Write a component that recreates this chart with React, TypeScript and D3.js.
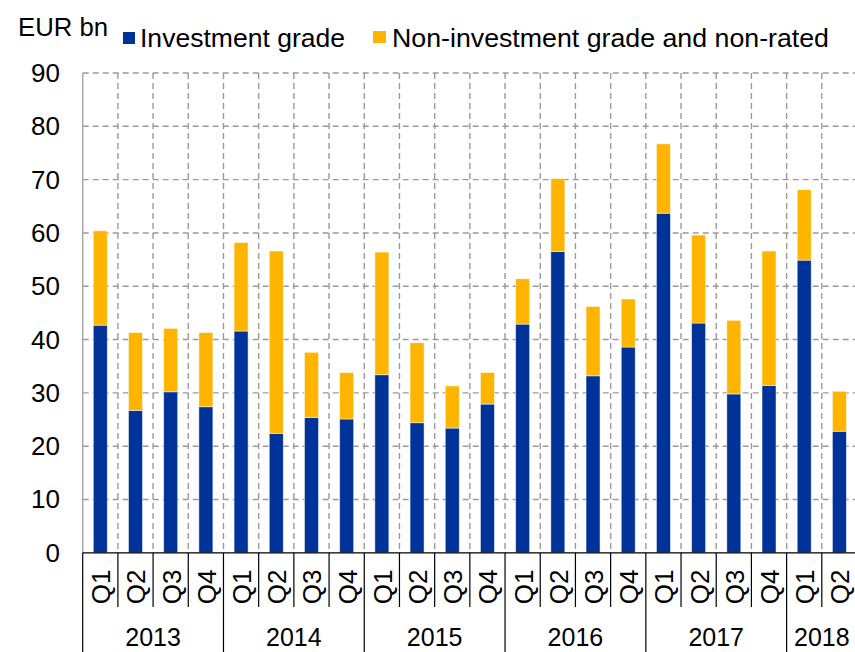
import React from "react";
import * as d3 from "d3";

const width = 855;
const height = 652;
const margin = { top: 73, right: -2, bottom: 100, left: 82.7 };

const quarters = ["Q1", "Q2", "Q3", "Q4", "Q1", "Q2", "Q3", "Q4", "Q1", "Q2", "Q3", "Q4",
  "Q1", "Q2", "Q3", "Q4", "Q1", "Q2", "Q3", "Q4", "Q1", "Q2"];
const years = ["2013", "2014", "2015", "2016", "2017", "2018"];
const quartersPerYear = [4, 4, 4, 4, 4, 2];
const investmentGrade = [42.7, 26.7, 30.2, 27.4, 41.6, 22.4, 25.4, 25.1, 33.4, 24.4, 23.4, 27.9,
  42.9, 56.5, 33.2, 38.6, 63.7, 43.1, 29.8, 31.4, 54.9, 22.8];
const nonInvestment = [17.7, 14.6, 11.9, 13.9, 16.6, 34.2, 12.2, 8.7, 23.0, 15.0, 7.9, 5.9,
  8.5, 13.7, 13.0, 9.0, 13.0, 16.5, 13.8, 25.2, 13.2, 7.5];
const yTicks = [0, 10, 20, 30, 40, 50, 60, 70, 80, 90];

const seriesNames = ["Investment grade", "Non-investment grade and non-rated"];
const colors = ["#003399", "#FFB400"];
const font = "'Liberation Sans', Arial, sans-serif";

export default function App() {
  const keys = quarters.map((q, i) => `${i}`);
  const rows = keys.map((k, i) => ({ key: k, ig: investmentGrade[i], nig: nonInvestment[i] }));

  const x = d3.scaleBand().domain(keys).range([margin.left, width - margin.right]).padding(0);
  const y = d3.scaleLinear().domain([0, 90]).range([height - margin.bottom + 0.8, margin.top]);
  const stacked = d3.stack().keys(["ig", "nig"])(rows as any);

  const barW = 14;
  const bw = x.bandwidth();
  const y0 = y(0);

  // year groups
  let start = 0;
  const yearGroups = years.map((yr, i) => {
    const g = { year: yr, from: start, to: start + quartersPerYear[i] };
    start += quartersPerYear[i];
    return g;
  });

  return (
    <svg width={width} height={height} style={{ position: "absolute", left: 0, top: 0, fontFamily: font }}>
      <rect width={width} height={height} fill="#fff" />

      {/* horizontal grid */}
      {yTicks.filter(t => t > 0).map(t => (
        <line key={"h" + t} x1={margin.left} x2={width + 5} y1={y(t)} y2={y(t)}
          stroke="#9a9a9a" strokeWidth={1.4} strokeDasharray="6,4" />
      ))}
      {/* vertical grid */}
      {keys.slice(1).map(k => (
        <line key={"v" + k} x1={x(k)} x2={x(k)} y1={y(90)} y2={y0}
          stroke="#9a9a9a" strokeWidth={1.4} strokeDasharray="6,4" />
      ))}
      <line x1={margin.left} x2={margin.left} y1={y(90)} y2={y0} stroke="#a6a6a6" strokeWidth={1.5} />

      {/* bars */}
      {stacked.map((s, si) => (
        <g key={si} fill={colors[si]}>
          {s.map((d, i) => (
            <rect key={i} x={(x(keys[i]) as number) + (bw - barW) / 2} y={y(d[1])}
              width={barW} height={y(d[0]) - y(d[1])}
              stroke="#ffffff" strokeOpacity={0.6} strokeWidth={0.8} />
          ))}
        </g>
      ))}

      {/* y tick labels */}
      {yTicks.map(t => (
        <text key={"t" + t} x={60} y={y(t)} textAnchor="end" dominantBaseline="central"
          fontSize={26} fill="#000">{t}</text>
      ))}

      {/* x axis */}
      <line x1={margin.left} x2={width + 5} y1={y0} y2={y0} stroke="#000" strokeWidth={1.3} />
      {keys.map((k, i) => (
        <g key={"q" + k}>
          {i > 0 && !yearGroups.some(g => g.from === i) && (
            <line x1={x(k)} x2={x(k)} y1={y0} y2={607} stroke="#000" strokeWidth={1.2} />
          )}
          <text transform={`translate(${(x(k) as number) + bw / 2 + 1},${587}) rotate(-90)`}
            textAnchor="middle" dominantBaseline="central" fontSize={26} fill="#000">{quarters[i]}</text>
        </g>
      ))}
      {yearGroups.map(g => {
        const x1 = x(keys[g.from]) as number;
        const x2 = g.to < keys.length ? (x(keys[g.to]) as number) : width - margin.right;
        return (
          <g key={g.year}>
            <line x1={x1} x2={x1} y1={y0} y2={height} stroke="#000" strokeWidth={1.2} />
            <text x={(x1 + x2) / 2} y={646} textAnchor="middle" fontSize={25} fill="#000">{g.year}</text>
          </g>
        );
      })}

      {/* title + legend */}
      <text x={18} y={36} fontSize={25} fill="#000" textLength={90} lengthAdjust="spacingAndGlyphs">EUR bn</text>
      <rect x={123} y={32} width={12} height={12} fill={colors[0]} />
      <text x={140} y={47} fontSize={26} fill="#000" textLength={205} lengthAdjust="spacingAndGlyphs">{seriesNames[0]}</text>
      <rect x={373} y={31} width={13} height={12} fill={colors[1]} />
      <text x={392} y={47} fontSize={26} fill="#000" textLength={437} lengthAdjust="spacingAndGlyphs">{seriesNames[1]}</text>
    </svg>
  );
}
